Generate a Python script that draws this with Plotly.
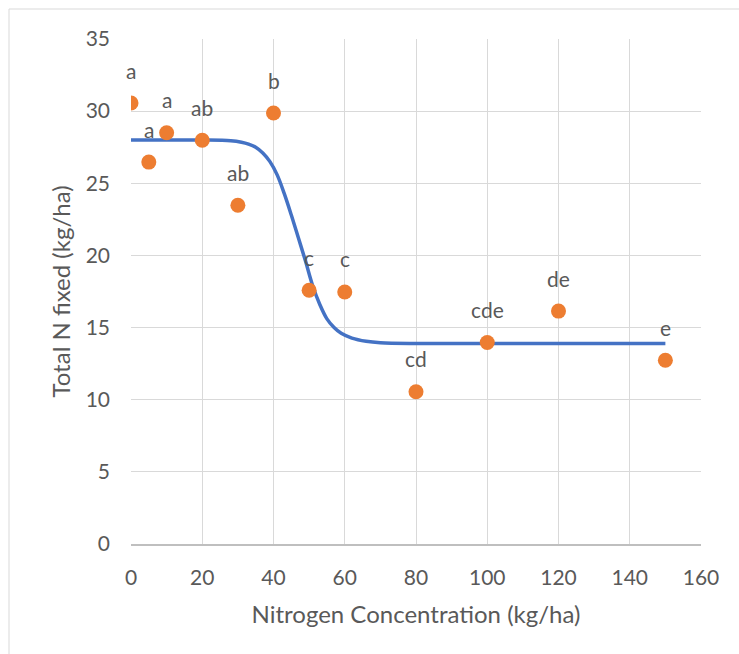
import plotly.graph_objects as go

# Observed data (Nitrogen concentration vs total N fixed)
n_conc = [0, 5, 10, 20, 30, 40, 50, 60, 80, 100, 120, 150]
n_fixed = [30.56, 26.47, 28.5, 27.98, 23.48, 29.87, 17.59, 17.47, 10.55, 13.97, 16.14, 12.74]
group_labels = ["a", "a", "a", "ab", "ab", "b", "c", "c", "cd", "cde", "de", "e"]

# Fitted curve
fit_x = [0, 20, 28, 31, 33, 35, 37, 39, 41, 43, 45, 47, 49, 51, 53, 55, 57, 59, 62, 66, 70, 80, 100, 150]
fit_y = [28.0, 28.0, 27.95, 27.85, 27.72, 27.5, 27.1, 26.5, 25.6, 24.3, 22.8, 21.2, 19.6, 17.9, 16.6, 15.6, 15.0, 14.6, 14.27, 14.05, 13.95, 13.9, 13.9, 13.9]

x_ticks = [0, 20, 40, 60, 80, 100, 120, 140, 160]
y_ticks = [0, 5, 10, 15, 20, 25, 30, 35]

FONT = "Lato"
TXT = "#595959"
GRID = "#D9D9D9"

fig = go.Figure()
fig.add_trace(go.Scatter(
    x=fit_x, y=fit_y, mode="lines",
    line=dict(color="#4472C4", width=3.5, shape="spline", smoothing=1),
    hoverinfo="skip", showlegend=False))
fig.add_trace(go.Scatter(
    x=n_conc, y=n_fixed, mode="markers",
    marker=dict(color="#ED7D31", size=15, line=dict(width=0)),
    showlegend=False))

for xv, yv, t in zip(n_conc, n_fixed, group_labels):
    fig.add_annotation(x=xv, y=yv, text=t, showarrow=False, yshift=33,
                       font=dict(family=FONT, size=21, color=TXT))

fig.add_shape(type="rect", xref="paper", yref="paper",
              x0=(9 - 131) / 570, x1=(760 - 131) / 570,
              y0=(544 - 680) / 505, y1=(544 - 9) / 505,
              line=dict(color=GRID, width=1), fillcolor="rgba(0,0,0,0)", layer="below")

fig.update_layout(
    width=739, height=654,
    margin=dict(l=131, r=38, t=39, b=110),
    paper_bgcolor="white", plot_bgcolor="white",
    font=dict(family=FONT, color=TXT),
    xaxis=dict(range=[0, 160], tickvals=x_ticks, showgrid=True, gridcolor=GRID, gridwidth=1,
               zeroline=False, showline=True, linecolor="#BFBFBF", linewidth=1.5,
               mirror=False, tickfont=dict(size=21, color=TXT), ticklabelstandoff=14,
               title=dict(text="Nitrogen Concentration (kg/ha)", font=dict(size=24, color=TXT), standoff=18)),
    yaxis=dict(range=[0, 35], tickvals=y_ticks, showgrid=True, gridcolor=GRID, gridwidth=1,
               zeroline=False, showline=False,
               tickfont=dict(size=21, color=TXT), ticklabelstandoff=20,
               title=dict(text="Total N fixed (kg/ha)", font=dict(size=24, color=TXT), standoff=8)),
)

fig.write_html("out.html")
